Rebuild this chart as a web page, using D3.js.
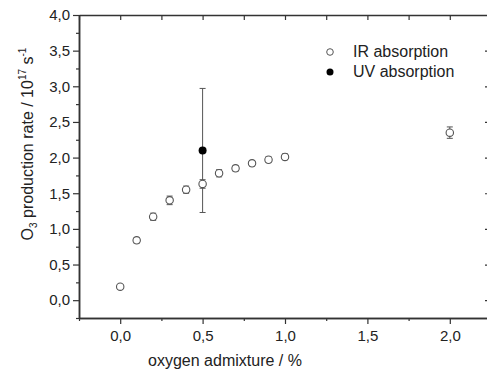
<!DOCTYPE html>
<html>
<head>
<meta charset="utf-8">
<script src="https://cdn.jsdelivr.net/npm/d3@7"></script>
<style>
  body { margin: 0; background: #fff; }
  svg { display: block; font-family: "Liberation Sans", Arial, sans-serif; }
</style>
</head>
<body>
<svg id="chart" width="487" height="371"></svg>
<script>
// data
const irX = [0, 0.1, 0.2, 0.3, 0.4, 0.5, 0.6, 0.7, 0.8, 0.9, 1.0, 2.0];
const irY = [0.19, 0.84, 1.17, 1.40, 1.55, 1.63, 1.78, 1.85, 1.92, 1.97, 2.01, 2.35];
const irErr = [0.03, 0.04, 0.05, 0.06, 0.05, 0.06, 0.05, 0.04, 0.04, 0.04, 0.04, 0.08];
const uvX = [0.5];
const uvY = [2.10];
const uvErr = [0.87];
const xTicks = [0, 0.5, 1.0, 1.5, 2.0];
const xMinor = [-0.25, 0.25, 0.75, 1.25, 1.75, 2.25];
const yTicks = [0, 0.5, 1.0, 1.5, 2.0, 2.5, 3.0, 3.5, 4.0];
const yMinor = [-0.25, 0.25, 0.75, 1.25, 1.75, 2.25, 2.75, 3.25, 3.75];
const legendNames = ["IR absorption", "UV absorption"];

const svg = d3.select("#chart");
const mLeft = 79, mRight = 491, mTop = 15, mBottom = 318;
const axisColor = "#333";
const fmt = d => d3.format(".1f")(d).replace(".", ",");

const x = d3.scaleLinear().domain([-0.25, 2.25]).range([mLeft, mRight]);
const y = d3.scaleLinear().domain([-0.25, 4.0]).range([mBottom, mTop]);

function style(g) {
  g.select(".domain").attr("stroke", axisColor).attr("stroke-width", 1.5);
  g.selectAll(".tick line").attr("stroke", axisColor).attr("stroke-width", 1.2);
  g.selectAll("text").attr("fill", "#222").style("font-size", "15px");
}

// bottom axis
svg.append("g").attr("transform", `translate(0,${mBottom})`)
  .call(d3.axisBottom(x).tickValues(xMinor).tickSize(3).tickSizeOuter(0).tickFormat(""))
  .call(style);
svg.append("g").attr("transform", `translate(0,${mBottom})`)
  .call(d3.axisBottom(x).tickValues(xTicks).tickSize(6).tickSizeOuter(0).tickPadding(6).tickFormat(fmt))
  .call(style);

// top axis, ticks inward
svg.append("g").attr("transform", `translate(0,${mTop})`)
  .call(d3.axisTop(x).tickValues(xTicks.concat(xMinor)).tickSize(-5).tickSizeOuter(0).tickFormat(""))
  .call(style);

// left axis
svg.append("g").attr("transform", `translate(${mLeft},0)`)
  .call(d3.axisLeft(y).tickValues(yMinor).tickSize(3).tickSizeOuter(0).tickFormat(""))
  .call(style);
svg.append("g").attr("transform", `translate(${mLeft},0)`)
  .call(d3.axisLeft(y).tickValues(yTicks).tickSize(6).tickSizeOuter(0).tickPadding(3).tickFormat(fmt))
  .call(style);

// right axis, ticks inward (mostly outside the window)
svg.append("g").attr("transform", `translate(${mRight},0)`)
  .call(d3.axisRight(y).tickValues(yTicks).tickSize(-6).tickSizeOuter(0).tickFormat(""))
  .call(style);

// axis titles
svg.append("text")
  .attr("x", 225).attr("y", 366)
  .attr("text-anchor", "middle")
  .attr("fill", "#222").style("font-size", "16px")
  .text("oxygen admixture / %");

const yt = svg.append("text")
  .attr("transform", "translate(33,144) rotate(-90)")
  .attr("text-anchor", "middle")
  .attr("fill", "#222").style("font-size", "16px");
yt.append("tspan").text("O");
yt.append("tspan").attr("dy", 4).style("font-size", "10px").text("3");
yt.append("tspan").attr("dy", -4).text(" production rate / 10");
yt.append("tspan").attr("dy", -7).style("font-size", "10px").text("17");
yt.append("tspan").attr("dy", 7).text(" s");
yt.append("tspan").attr("dy", -7).style("font-size", "10px").text("-1");

// error bars
function errBars(xs, ys, es, cap) {
  const g = svg.append("g").attr("stroke", "#555").attr("stroke-width", 1);
  xs.forEach((xv, i) => {
    const cx = x(xv), y1 = y(ys[i] + es[i]), y2 = y(ys[i] - es[i]);
    g.append("line").attr("x1", cx).attr("x2", cx).attr("y1", y1).attr("y2", y2);
    g.append("line").attr("x1", cx - cap).attr("x2", cx + cap).attr("y1", y1).attr("y2", y1);
    g.append("line").attr("x1", cx - cap).attr("x2", cx + cap).attr("y1", y2).attr("y2", y2);
  });
}
errBars(irX, irY, irErr, 3);
errBars(uvX, uvY, uvErr, 3);

// IR points: open circles
svg.append("g").selectAll("circle")
  .data(irX)
  .join("circle")
  .attr("cx", d => x(d))
  .attr("cy", (d, i) => y(irY[i]))
  .attr("r", 3.7)
  .attr("fill", "#fff")
  .attr("stroke", "#555")
  .attr("stroke-width", 1.1);

// UV point: filled
svg.append("g").selectAll("circle")
  .data(uvX)
  .join("circle")
  .attr("cx", d => x(d))
  .attr("cy", (d, i) => y(uvY[i]))
  .attr("r", 4)
  .attr("fill", "#000");

// legend
const lg = svg.append("g").attr("transform", "translate(330,52)");
lg.append("circle").attr("cx", 0).attr("cy", 0).attr("r", 3.3)
  .attr("fill", "#fff").attr("stroke", "#555").attr("stroke-width", 1);
lg.append("circle").attr("cx", 0).attr("cy", 20).attr("r", 3.5).attr("fill", "#000");
legendNames.forEach((t, i) => {
  lg.append("text").attr("x", 23).attr("y", 5 + i * 20)
    .attr("fill", "#222").style("font-size", "16px").text(t);
});
</script>
</body>
</html>
